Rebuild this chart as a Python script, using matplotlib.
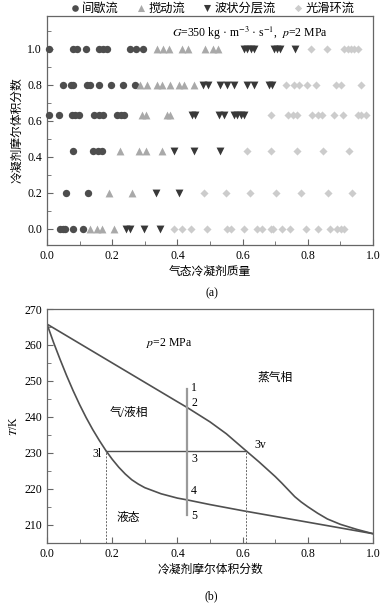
import matplotlib
matplotlib.use("Agg")
import matplotlib.pyplot as plt
from matplotlib.ticker import MultipleLocator, FormatStrFormatter

plt.rcParams['font.family'] = ['Liberation Serif', 'Noto Sans CJK SC']
plt.rcParams['mathtext.fontset'] = 'stix'
plt.rcParams['axes.unicode_minus'] = False

# ---------------- data (a) ----------------
rows = [1.0, 0.8, 0.635, 0.43, 0.2, 0.0]

intermittent_x = [
    [0.005, 0.079, 0.093, 0.12, 0.161, 0.173, 0.184, 0.255, 0.274, 0.294],
    [0.048, 0.074, 0.081, 0.122, 0.132, 0.161, 0.197, 0.233, 0.269],
    [0.007, 0.038, 0.076, 0.086, 0.099, 0.143, 0.158, 0.173, 0.214, 0.227, 0.237],
    [0.079, 0.14, 0.155, 0.17],
    [0.057, 0.125],
    [0.04, 0.048, 0.055, 0.081, 0.109],
]
churn_x = [
    [0.338, 0.357, 0.373, 0.415, 0.434, 0.486, 0.508, 0.526],
    [0.286, 0.307, 0.337, 0.353, 0.378, 0.404, 0.42, 0.45],
    [0.291, 0.305, 0.368, 0.378],
    [0.225, 0.281, 0.305, 0.353],
    [0.191, 0.261],
    [0.132, 0.153, 0.168, 0.204],
]
wavy_x = [
    [0.603, 0.615, 0.625, 0.634, 0.695, 0.705, 0.714, 0.76],
    [0.48, 0.493, 0.532, 0.553, 0.573, 0.614, 0.635, 0.68, 0.691],
    [0.445, 0.455, 0.527, 0.543, 0.573, 0.584, 0.594, 0.604],
    [0.389, 0.452, 0.532],
    [0.334, 0.406],
    [0.243, 0.255, 0.296, 0.346],
]
annular_x = [
    [0.81, 0.86, 0.911, 0.923, 0.932, 0.942, 0.953],
    [0.732, 0.758, 0.773, 0.799, 0.825, 0.886, 0.902, 0.963],
    [0.686, 0.74, 0.756, 0.766, 0.814, 0.83, 0.845, 0.881, 0.907, 0.953, 0.963, 0.978],
    [0.614, 0.686, 0.768, 0.848, 0.927],
    [0.481, 0.548, 0.623, 0.702, 0.778, 0.861, 0.937],
    [0.389, 0.414, 0.442, 0.491, 0.553, 0.563, 0.604, 0.645, 0.658, 0.686, 0.694,
     0.722, 0.746, 0.794, 0.83, 0.869, 0.891, 0.902, 0.912],
]
series_labels = ['间歇流', '搅动流', '波状分层流', '光滑环流']

# ---------------- data (b) ----------------
dew_x = [0.0, 0.1, 0.2, 0.3, 0.4, 0.43, 0.5, 0.55, 0.61, 0.65, 0.7, 0.72, 0.76,
         0.78, 0.8, 0.83, 0.86, 0.9, 0.95, 1.0]
dew_T = [265.8, 260.4, 255.0, 249.6, 244.2, 242.6, 238.6, 235.3, 230.6, 227.5, 223.4, 221.6, 217.8,
         216.3, 215.0, 213.2, 211.6, 210.1, 208.7, 207.5]
bub_x = [0.0, 0.02, 0.04, 0.06, 0.08, 0.10, 0.12, 0.14, 0.16, 0.18, 0.20, 0.22, 0.24, 0.26,
         0.28, 0.30, 0.35, 0.40, 0.43, 0.5, 0.6, 0.7, 0.8, 0.9, 1.0]
bub_T = [265.8, 260.7, 256.0, 251.5, 247.3, 243.4, 239.8, 236.5, 233.5, 230.7, 228.2, 226.0, 224.1, 222.5,
         221.3, 220.3, 218.6, 217.4, 216.9, 215.6, 213.9, 212.3, 210.7, 209.1, 207.5]
x_liq, x_vap, T_eq = 0.18, 0.61, 230.6
x_mix, T_top, T_bot = 0.43, 247.7, 212.6
state_labels = ['1', '2', '3', '4', '5']
state_T = [248.0, 243.9, 228.2, 219.3, 212.4]

fig = plt.figure(figsize=(3.81, 6.09), dpi=100)
fs = 8.5
spine_c = '#666666'

# ---------------- panel (a) ----------------
ax1 = fig.add_axes([0.1234, 0.5977, 0.8556, 0.3760])
styles = [
    dict(marker='o', color='#4d4d4d', s=28),
    dict(marker='^', color='#a9a9a9', s=32),
    dict(marker='v', color='#383838', s=32),
    dict(marker='D', color='#cccccc', s=17),
]
handles = []
for data, st, lab in zip([intermittent_x, churn_x, wavy_x, annular_x], styles, series_labels):
    xs, ys = [], []
    for r, xr in zip(rows, data):
        xs += xr
        ys += [r] * len(xr)
    h = ax1.scatter(xs, ys, marker=st['marker'], color=st['color'], s=st['s'],
                    linewidths=0, label=lab, clip_on=False, zorder=3)
    handles.append(h)
ax1.set_xlim(0, 1)
ax1.set_ylim(-0.09, 1.183)
ax1.xaxis.set_major_locator(MultipleLocator(0.2))
ax1.xaxis.set_minor_locator(MultipleLocator(0.1))
ax1.yaxis.set_major_locator(MultipleLocator(0.2))
ax1.yaxis.set_minor_locator(MultipleLocator(0.1))
ax1.set_yticks([0, 0.2, 0.4, 0.6, 0.8, 1.0])
ax1.set_xlabel('气态冷凝剂质量', fontsize=fs, labelpad=3)
ax1.set_ylabel('冷凝剂摩尔体积分数', fontsize=fs, labelpad=3)
ax1.text(0.383, 1.089, r'$G$=350 kg · m$^{-3}$ · s$^{-1}$,  $p$=2 MPa', fontsize=fs, va='center', ha='left')
fig.text(0.555, 0.519, '(a)', fontsize=fs, ha='center', va='center')
fig.legend(handles=handles, labels=series_labels, loc='center', bbox_to_anchor=(0.555, 0.986),
           ncol=4, frameon=False, fontsize=fs + 0.3, handletextpad=0.1, columnspacing=1.3,
           handlelength=1.0, markerscale=0.9, borderaxespad=0, borderpad=0)

# ---------------- panel (b) ----------------
ax2 = fig.add_axes([0.1234, 0.1089, 0.8556, 0.3837])
line_c = '#505050'
ax2.plot(dew_x, dew_T, color=line_c, lw=1.2)
ax2.plot(bub_x, bub_T, color=line_c, lw=1.2)
ax2.plot([x_liq, x_vap], [T_eq, T_eq], color=line_c, lw=1.0)
ax2.plot([x_liq, x_liq], [205, T_eq], color='#666666', lw=0.7, ls=(0, (2, 1.5)))
ax2.plot([x_vap, x_vap], [205, T_eq], color='#666666', lw=0.7, ls=(0, (2, 1.5)))
ax2.plot([x_mix, x_mix], [T_bot, T_top], color='#9a9a9a', lw=1.6)
for lab, t in zip(state_labels, state_T):
    ax2.text(x_mix + 0.012, t, lab, fontsize=fs, ha='left', va='center')
ax2.text(x_liq - 0.012, T_eq - 0.8, '3l', fontsize=fs, ha='right', va='center')
ax2.text(0.655, 232.2, '3v', fontsize=fs, ha='center', va='center')
ax2.text(0.375, 260.5, r'$p$=2 MPa', fontsize=fs, ha='center', va='center')
ax2.text(0.70, 251.0, '蒸气相', fontsize=fs, ha='center', va='center')
ax2.text(0.252, 241.0, '气/液相', fontsize=fs, ha='center', va='center')
ax2.text(0.25, 212.0, '液态', fontsize=fs, ha='center', va='center')
ax2.set_xlim(0, 1)
ax2.set_ylim(205, 270)
ax2.xaxis.set_major_locator(MultipleLocator(0.2))
ax2.xaxis.set_minor_locator(MultipleLocator(0.1))
ax2.yaxis.set_major_locator(MultipleLocator(10))
ax2.yaxis.set_minor_locator(MultipleLocator(5))
ax2.set_xlabel('冷凝剂摩尔体积分数', fontsize=fs, labelpad=3)
ax2.set_ylabel(r'$T$/K', fontsize=fs, labelpad=3)
fig.text(0.555, 0.0115, '(b)', fontsize=fs, ha='center', va='bottom')

for ax in (ax1, ax2):
    for sp in ax.spines.values():
        sp.set_color(spine_c)
        sp.set_linewidth(0.9)
    ax.tick_params(which='both', direction='in', labelsize=fs, color=spine_c, top=False, right=False)
    ax.tick_params(which='major', length=4)
    ax.tick_params(which='minor', length=3)
    ax.xaxis.set_major_formatter(FormatStrFormatter('%.1f'))
ax1.yaxis.set_major_formatter(FormatStrFormatter('%.1f'))

fig.savefig('out.png', dpi=100)
